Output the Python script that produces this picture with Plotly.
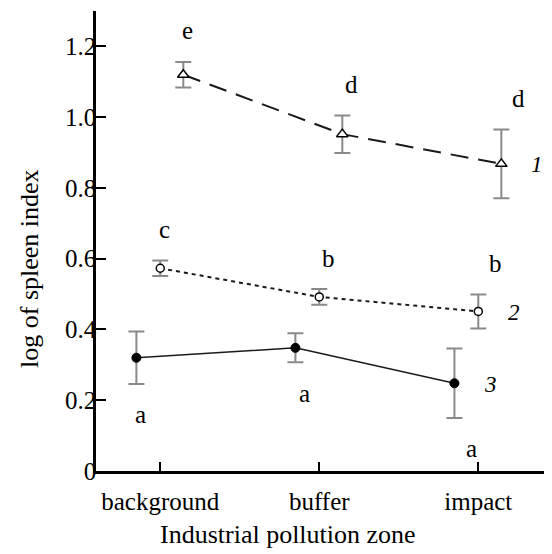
import plotly.graph_objects as go

categories = ["background", "buffer", "impact"]
series_names = ["1", "2", "3"]

s1_mean = [1.12, 0.952, 0.868]
s1_err = [0.036, 0.053, 0.097]
s2_mean = [0.573, 0.492, 0.451]
s2_err = [0.022, 0.022, 0.048]
s3_mean = [0.320, 0.348, 0.248]
s3_err = [0.074, 0.041, 0.098]

s1_letters = ["e", "d", "d"]
s2_letters = ["c", "b", "b"]
s3_letters = ["a", "a", "a"]

y_ticks = [0, 0.2, 0.4, 0.6, 0.8, 1.0, 1.2]
y_ticklabels = ["0", "0.2", "0.4", "0.6", "0.8", "1.0", "1.2"]

FONT = "Liberation Serif, Times New Roman, serif"
offsets = [0.145, 0.0, -0.15]
letter_xshift = [4, 9, 17]

series = [
    (s1_mean, s1_err, s1_letters, dict(symbol="triangle-up", size=10, color="white",
                                       line=dict(color="black", width=1.5)),
     dict(color="#1a1a1a", width=2, dash="18px,10px"), 1),
    (s2_mean, s2_err, s2_letters, dict(symbol="circle", size=8, color="white",
                                       line=dict(color="black", width=1.5)),
     dict(color="#1a1a1a", width=2, dash="4px,4px"), 1),
    (s3_mean, s3_err, s3_letters, dict(symbol="circle", size=9, color="black",
                                       line=dict(color="black", width=1)),
     dict(color="#1a1a1a", width=1.5), -1),
]

fig = go.Figure()
annotations = []
for k, (mean, err, letters, marker, line, side) in enumerate(series):
    xs = [i + offsets[k] for i in range(len(categories))]
    fig.add_trace(go.Scatter(
        x=xs, y=mean, mode="lines+markers", marker=marker, line=line,
        error_y=dict(type="data", array=err, visible=True, color="#8a8a8a",
                     thickness=2, width=8),
        showlegend=False, cliponaxis=False))
    for i, (xv, m, e, lt) in enumerate(zip(xs, mean, err, letters)):
        annotations.append(dict(
            x=xv, y=m + side * e, xref="x", yref="y", text=lt, showarrow=False,
            xshift=letter_xshift[i], yshift=side * 31,
            xanchor="center", yanchor="middle",
            font=dict(family=FONT, size=25, color="black")))
    annotations.append(dict(
        x=xs[-1], y=mean[-1], xref="x", yref="y", text="<i>" + series_names[k] + "</i>",
        showarrow=False, xshift=36, yshift=-1, xanchor="center", yanchor="middle",
        font=dict(family=FONT, size=23, color="black")))

annotations.append(dict(x=0.423, y=-0.138, xref="paper", yref="paper",
                        text="Industrial pollution zone", showarrow=False,
                        xanchor="center", yanchor="middle",
                        font=dict(family=FONT, size=26, color="black")))
annotations.append(dict(x=-0.148, y=0.441, xref="paper", yref="paper",
                        text="log of spleen index", showarrow=False, textangle=-90,
                        xanchor="center", yanchor="middle",
                        font=dict(family=FONT, size=26, color="black")))

fig.update_layout(
    width=544, height=546,
    margin=dict(l=88, r=2, t=3, b=83),
    paper_bgcolor="white", plot_bgcolor="white",
    font=dict(family=FONT, size=25, color="black"),
    annotations=annotations,
    xaxis=dict(range=[-0.404, 2.451], tickvals=[0, 1, 2], ticktext=categories,
               ticks="inside", ticklen=9, tickwidth=2, tickcolor="black",
               showline=True, linecolor="black", linewidth=2.5,
               showgrid=False, zeroline=False, ticklabelstandoff=6,
               tickfont=dict(family=FONT, size=25, color="black")),
    yaxis=dict(range=[0, 1.3], tickvals=y_ticks, ticktext=y_ticklabels,
               ticks="inside", ticklen=10, tickwidth=2, tickcolor="black",
               showline=True, linecolor="black", linewidth=2.5,
               showgrid=False, zeroline=False, ticklabelstandoff=-8,
               tickfont=dict(family=FONT, size=25, color="black")),
)

fig.write_html("out.html")
